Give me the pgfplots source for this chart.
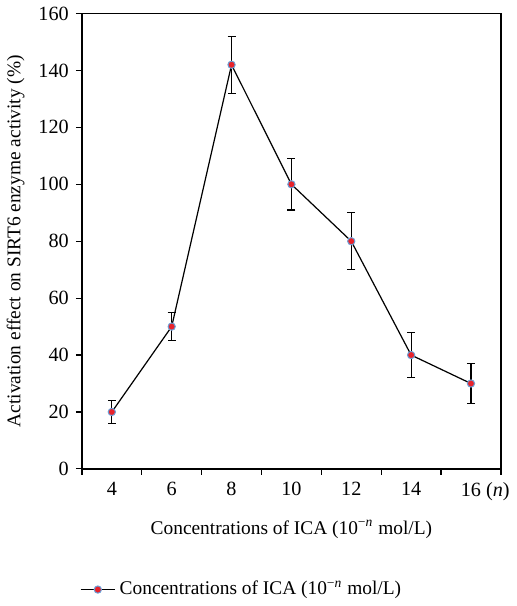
\documentclass[border=0pt]{standalone}
\usepackage{pgfplots}
\pgfplotsset{compat=1.18}
\usepackage{fontspec}
\setmainfont{Liberation Serif}
\definecolor{mkred}{HTML}{E8232B}
\definecolor{mkblue}{HTML}{6B9ED6}

\begin{document}
\begin{tikzpicture}
\begin{axis}[
  scale only axis,
  width=207.5pt, height=225.5pt,
  xmin=3, xmax=17, ymin=0, ymax=160,
  xtick={4,6,...,16},
  xticklabels={4,6,8,10,12,14,{\phantom{(\textit{n}) }16 (\textit{n})}},
  minor xtick={3,5,...,17},
  major x tick style={draw=none},
  ytick={0,20,...,160},
  tick align=outside,
  xtick pos=bottom, ytick pos=left,
  major tick length=3pt, minor tick length=3pt,
  tick style={black, line width=0.6pt},
  axis line style={line width=0.7pt},
  /pgf/number format/assume math mode=true,
  tick label style={font=\fontsize{10}{12}\selectfont},
  label style={font=\fontsize{9.6}{12}\selectfont},
  xlabel={Concentrations of ICA (10\textsuperscript{−\textit{n}} mol/L)},
  ylabel={Activation effect on SIRT6 enzyme activity (\%)},
  xlabel style={yshift=-3pt},
  legend style={draw=none, fill=none, at={(axis description cs:-0.02,-0.265)}, anchor=west,
    font=\fontsize{9.6}{12}\selectfont},
  legend cell align=left,
  legend image code/.code={
    \draw[#1, mark repeat=2, mark phase=2] plot coordinates {(0cm,0cm) (0.3cm,0cm) (0.6cm,0cm)};
  },
]
\addplot[black, line width=0.6pt,
  mark=*, mark size=1.8pt, mark options={fill=mkred, draw=mkblue, line width=0.5pt},
  error bars/.cd, y dir=both, y explicit,
  error bar style={black, line width=0.6pt},
  error mark options={black, rotate=90, mark size=2pt, line width=0.6pt},
] coordinates {
  (4,20) +- (0,4)
  (6,50) +- (0,5)
  (8,142) +- (0,10)
  (10,100) +- (0,9)
  (12,80) +- (0,10)
  (14,40) +- (0,8)
  (16,30) +- (0,7)
};
\legend{Concentrations of ICA (10\textsuperscript{−\textit{n}} mol/L)}
\end{axis}
\end{tikzpicture}
\end{document}
